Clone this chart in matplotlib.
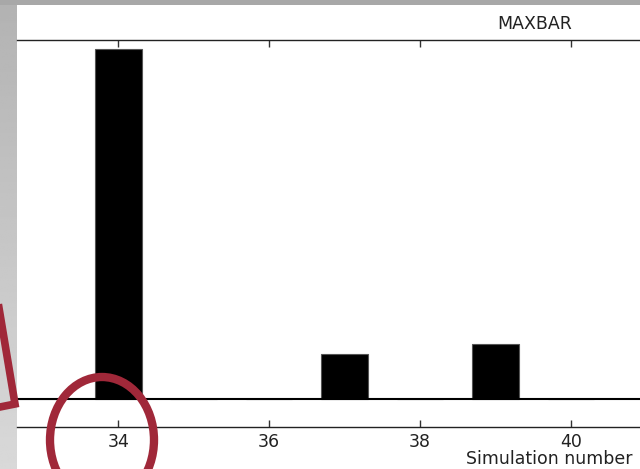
import numpy as np
import matplotlib.pyplot as plt
from matplotlib.patches import Ellipse, Rectangle

# --- data ---
sim_number = [33, 34, 35, 36, 37, 38, 39, 40]
maxbar = [0.0, 0.975, 0.0, 0.0, 0.125, 0.0, 0.153, 0.0]
xticks = [34, 36, 38, 40]

red = '#a02839'

fig = plt.figure(figsize=(6.4, 4.69), dpi=100)
fig.patch.set_facecolor('white')

# slide background (gray bands on the left and top)
bg = fig.add_axes([0, 0, 1, 1], zorder=-5)
bg.set_xlim(0, 640)
bg.set_ylim(469, 0)
bg.axis('off')
grad = np.linspace(0.70, 0.85, 256).reshape(-1, 1)
bg.imshow(grad, cmap='gray', vmin=0, vmax=1, extent=(0, 17, 469, 0), aspect='auto')
bg.add_patch(Rectangle((0, 0), 640, 5, color='#a8a8a8', lw=0))

# --- main chart ---
ax = fig.add_axes([17 / 640, 1 - 427 / 469, 623 / 640, 387 / 469])
ax.bar(sim_number, maxbar, width=0.62, color='black', edgecolor='#555555', linewidth=0.8)
ax.axhline(0, color='black', lw=1.5)
ax.set_xlim(32.66, 40.914)
ax.set_ylim(-0.078, 1.0)
ax.set_xticks(xticks)
ax.set_yticks([])
ax.spines['left'].set_visible(False)
ax.spines['right'].set_visible(False)
for s in ['top', 'bottom']:
    ax.spines[s].set_color('#222222')
    ax.spines[s].set_linewidth(1.0)
ax.tick_params(axis='x', direction='in', top=True, bottom=True, length=5, width=1,
               color='#333333', labelsize=12.5, pad=4, labelcolor='#222222')

fig.text(535 / 640, 1 - 24 / 469, 'MAXBAR', ha='center', va='center',
         fontsize=12.5, color='#222222')
fig.text(632 / 640, 1 - 459 / 469, 'Simulation number', ha='right', va='center',
         fontsize=12.5, color='#222222')

# --- red annotations on top ---
ov = fig.add_axes([0, 0, 1, 1], zorder=10)
ov.set_xlim(0, 640)
ov.set_ylim(469, 0)
ov.axis('off')
ov.patch.set_alpha(0)
ov.add_patch(Ellipse((102, 440), 104, 126, fill=False, edgecolor=red, lw=6))
ov.plot([-4, 15, -10], [290, 404, 409], color=red, lw=5.5, solid_joinstyle='miter')

fig.savefig('out.png', dpi=100)
